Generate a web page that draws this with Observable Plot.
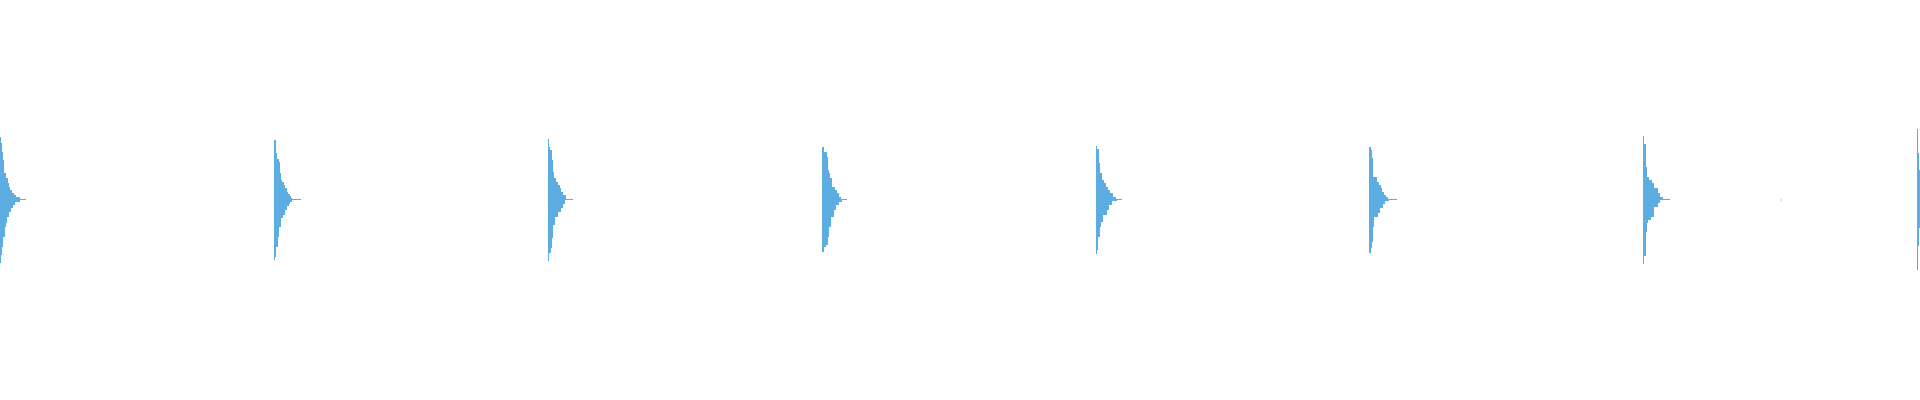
<!DOCTYPE html>
<html>
<head>
<meta charset="utf-8">
<script src="https://cdn.jsdelivr.net/npm/d3@7"></script>
<script src="https://cdn.jsdelivr.net/npm/@observablehq/plot@0.6"></script>
<style>
  html, body { margin: 0; padding: 0; background: #ffffff; }
  #chart { width: 1920px; height: 400px; overflow: hidden; }
</style>
</head>
<body>
<div id="chart"></div>
<script>
// Groups (one facet per group)
const groups = ["G1", "G2", "G3", "G4", "G5", "G6", "G7", "G8"];

// Bins for each group: [upper edge, lower edge, count]
const g1Bins = [[63,57,1],[57,48,2],[48,40,3],[40,27,4],[27,22,6],[22,17,8],[17,13,9],[13,10,10],[10,7,12],[7,5,14],[5,3,16],[3,1,20],[1,0,26],[0,-2,20],[-2,-5,15],[-5,-8,13],[-8,-12,11],[-12,-17,9],[-17,-23,7],[-23,-27,6],[-27,-37,5],[-37,-47,3],[-47,-55,2],[-55,-63,1]];
const g2Bins = [[60,47,2],[47,41,3],[41,38,5],[38,27,6],[27,20,7],[20,18,8],[18,15,10],[15,12,11],[12,8,13],[8,6,14],[6,4,16],[4,2,17],[2,1,18],[1,0,27],[0,-2,18],[-2,-4,16],[-4,-6,15],[-6,-10,13],[-10,-15,11],[-15,-18,9],[-18,-27,7],[-27,-37,5],[-37,-47,4],[-47,-57,2],[-57,-60,1]];
const g3Bins = [[61,53,1],[53,50,2],[50,40,4],[40,28,5],[28,22,6],[22,18,8],[18,15,10],[15,12,12],[12,8,13],[8,5,15],[5,1,18],[1,0,25],[0,-4,17],[-4,-8,15],[-8,-12,13],[-12,-17,10],[-17,-25,7],[-25,-38,5],[-38,-48,4],[-48,-53,3],[-53,-61,1]];
const g4Bins = [[53,48,2],[48,43,5],[43,30,6],[30,27,7],[27,22,8],[22,13,10],[13,10,13],[10,7,15],[7,3,17],[3,1,19],[1,0,25],[0,-2,20],[-2,-5,17],[-5,-10,14],[-10,-17,12],[-17,-27,9],[-27,-37,7],[-37,-45,6],[-45,-47,4],[-47,-52,2]];
const g5Bins = [[54,51,2],[51,37,4],[37,27,5],[27,20,7],[20,17,9],[17,13,11],[13,10,13],[10,7,15],[7,3,18],[3,1,21],[1,0,27],[0,-1,22],[-1,-5,17],[-5,-10,14],[-10,-15,12],[-15,-22,8],[-22,-27,6],[-27,-37,5],[-37,-50,3],[-50,-54,2]];
const g6Bins = [[53,50,2],[50,42,3],[42,23,4],[23,18,8],[18,15,10],[15,12,12],[12,8,13],[8,5,15],[5,3,17],[3,1,19],[1,0,28],[0,-1,20],[-1,-4,16],[-4,-8,14],[-8,-13,11],[-13,-17,9],[-17,-27,5],[-27,-42,4],[-42,-48,3],[-48,-53,2]];
const g7Bins = [[64,56,1],[56,33,3],[33,23,4],[23,20,6],[20,17,9],[17,12,11],[12,7,15],[7,3,17],[3,1,20],[1,0,27],[0,-3,17],[-3,-7,15],[-7,-17,11],[-17,-20,8],[-20,-23,5],[-23,-32,4],[-32,-56,3],[-56,-64,1]];
const g8Bins = [[71,47,1],[47,30,2],[30,15,4],[15,5,8],[5,1,14],[1,0,24],[0,-5,14],[-5,-15,8],[-15,-28,4],[-28,-46,2],[-46,-70,1]];

// Isolated point
const outliers = [{group: "G7", value: 137.5, y: 0.5}];

const allBins = [g1Bins, g2Bins, g3Bins, g4Bins, g5Bins, g6Bins, g7Bins, g8Bins];
const table = groups.flatMap((g, i) =>
  allBins[i].map(([hi, lo, count]) => ({group: g, hi, lo, count}))
);

const color = "#5dade2";

const chart = Plot.plot({
  width: 1920,
  height: 400,
  marginLeft: 0,
  marginRight: 0,
  marginTop: 0,
  marginBottom: 0,
  style: {background: "#ffffff"},
  fx: {domain: groups, range: [0, 2191], padding: 0, round: false, axis: null},
  x: {domain: [0, 274], axis: null},
  y: {domain: [-200, 200], axis: null},
  marks: [
    Plot.rect(table, {
      fx: "group",
      x1: () => 0,
      x2: "count",
      y1: "lo",
      y2: "hi",
      fill: color,
      shapeRendering: "crispEdges"
    }),
    Plot.dot(outliers, {
      fx: "group",
      x: "value",
      y: "y",
      r: 0.6,
      symbol: "square",
      fill: color,
      stroke: "none"
    })
  ]
});

document.getElementById("chart").appendChild(chart);
</script>
</body>
</html>
